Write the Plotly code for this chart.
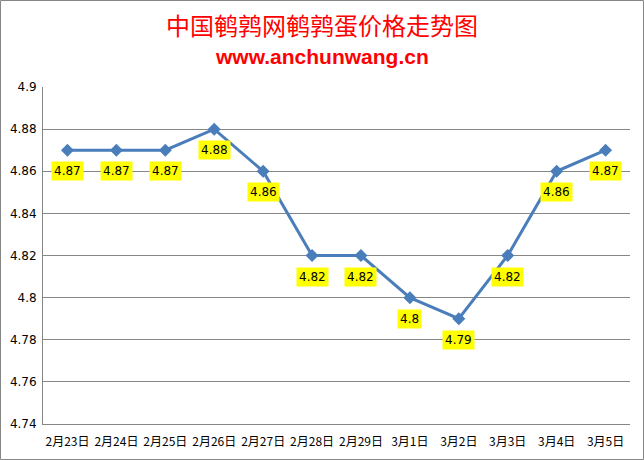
import plotly.graph_objects as go

dates = ["2月23日", "2月24日", "2月25日", "2月26日", "2月27日", "2月28日",
         "2月29日", "3月1日", "3月2日", "3月3日", "3月4日", "3月5日"]
prices = [4.87, 4.87, 4.87, 4.88, 4.86, 4.82, 4.82, 4.80, 4.79, 4.82, 4.86, 4.87]
label_texts = ["4.87", "4.87", "4.87", "4.88", "4.86", "4.82", "4.82", "4.8", "4.79", "4.82", "4.86", "4.87"]
y_ticks = [4.74, 4.76, 4.78, 4.80, 4.82, 4.84, 4.86, 4.88, 4.90]
y_tick_text = ["4.74", "4.76", "4.78", "4.8", "4.82", "4.84", "4.86", "4.88", "4.9"]

W, H = 644, 460
L, R, T, B = 43, 14, 87, 36
pw, ph = W - L - R, H - T - B


def px_x(x):
    return (x - L) / pw


def px_y(y):
    return (H - B - y) / ph


fig = go.Figure()
fig.add_trace(go.Scatter(
    x=list(range(len(dates))), y=prices, mode="lines+markers",
    line=dict(color="#4a7ebb", width=3),
    marker=dict(symbol="diamond", size=10, color="#4a7ebb"),
    hoverinfo="skip", showlegend=False,
))

for i, (v, t) in enumerate(zip(prices, label_texts)):
    fig.add_annotation(x=i, y=v, text=t, showarrow=False, yshift=-21,
                       bgcolor="#ffff00", borderpad=2,
                       font=dict(family="DejaVu Sans", size=12, color="#000000"))

fig.add_annotation(xref="paper", yref="paper", x=px_x(322), y=px_y(24),
                   xanchor="center", yanchor="middle",
                   text="中国鹌鹑网鹌鹑蛋价格走势图", showarrow=False,
                   font=dict(family="Noto Sans CJK SC", size=24, color="#ff0000"))
fig.add_annotation(xref="paper", yref="paper", x=px_x(322), y=px_y(56),
                   xanchor="center", yanchor="middle",
                   text="<b>www.anchunwang.cn</b>", showarrow=False,
                   font=dict(family="Liberation Sans", size=21, color="#ff0000"))

# outer border
fig.add_shape(type="rect", xref="paper", yref="paper",
              x0=px_x(0.5), x1=px_x(W - 0.5), y0=px_y(H - 0.5), y1=px_y(0.5),
              line=dict(color="#868686", width=1))

fig.update_layout(
    width=W, height=H, margin=dict(l=L, r=R, t=T, b=B, autoexpand=False),
    paper_bgcolor="white", plot_bgcolor="white",
    xaxis=dict(tickmode="array", tickvals=list(range(len(dates))), ticktext=dates,
               range=[-0.5, len(dates) - 0.5], showgrid=False, showline=True,
               linecolor="#868686", linewidth=1, ticks="", zeroline=False,
               ticklabelstandoff=7, automargin=False,
               tickfont=dict(family="Noto Sans CJK SC", size=12, color="#000000")),
    yaxis=dict(tickmode="array", tickvals=y_ticks, ticktext=y_tick_text,
               range=[4.74, 4.90], showgrid=True, gridcolor="#868686", gridwidth=1,
               showline=True, linecolor="#868686", linewidth=1, ticks="", zeroline=False,
               ticklabelstandoff=3, automargin=False,
               tickfont=dict(family="DejaVu Sans", size=12, color="#000000")),
)

fig.write_html("out.html", config={"displayModeBar": False},
               post_script="document.body.style.margin='0';document.body.style.overflow='hidden';")
